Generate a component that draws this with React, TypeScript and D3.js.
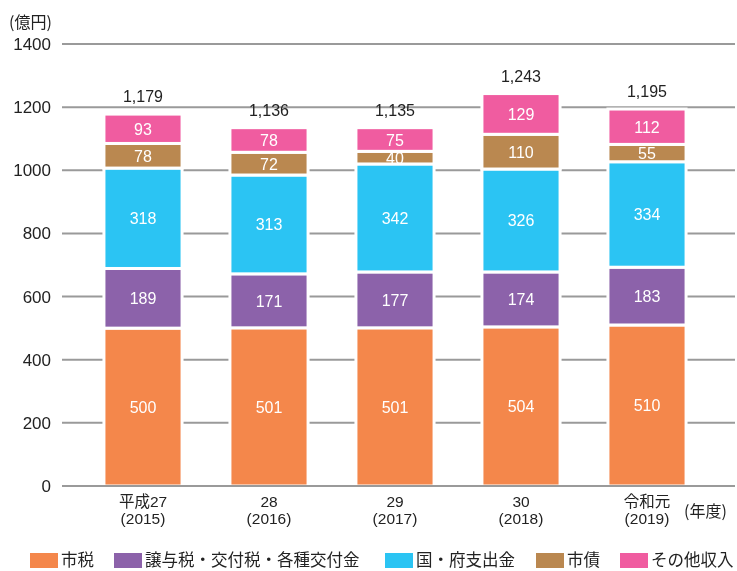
import { useEffect, useRef } from 'react';
import * as d3 from 'd3';

const years = ['平成27', '28', '29', '30', '令和元'];
const westernYears = ['(2015)', '(2016)', '(2017)', '(2018)', '(2019)'];
const seriesNames = ['市税', '譲与税・交付税・各種交付金', '国・府支出金', '市債', 'その他収入'];
const colors = ['#F4874B', '#8C62AA', '#2BC4F3', '#BA8850', '#F05CA0'];
const shizei = [500, 501, 501, 504, 510];
const jouyozei = [189, 171, 177, 174, 183];
const kokufu = [318, 313, 342, 326, 334];
const shisai = [78, 72, 40, 110, 55];
const sonota = [93, 78, 75, 129, 112];
const totals = ['1,179', '1,136', '1,135', '1,243', '1,195'];
const yTicks = [0, 200, 400, 600, 800, 1000, 1200, 1400];

const FONT = '"Liberation Sans", "Noto Sans CJK JP", sans-serif';
const JP = '"Noto Sans CJK JP", sans-serif';

export default function App() {
  const ref = useRef<SVGSVGElement>(null);

  useEffect(() => {
    const width = 737, height = 571;
    const svg = d3.select(ref.current);
    svg.selectAll('*').remove();
    svg.attr('width', width).attr('height', height);

    const table = years.map((y, i) => ({
      year: y,
      s0: shizei[i], s1: jouyozei[i], s2: kokufu[i], s3: shisai[i], s4: sonota[i],
    }));
    const keys = ['s0', 's1', 's2', 's3', 's4'];
    const stacked = d3.stack<any>().keys(keys)(table);

    const x = d3.scaleBand().domain(years).range([80, 710]).paddingInner(0.38).paddingOuter(0.19);
    const y = d3.scaleLinear().domain([0, 1400]).range([486, 44]);

    // grid
    svg.append('g')
      .selectAll('line')
      .data(yTicks)
      .join('line')
      .attr('x1', 62).attr('x2', 735)
      .attr('y1', d => y(d)).attr('y2', d => y(d))
      .attr('stroke', '#9a9a9a')
      .attr('stroke-width', 2);

    svg.append('g')
      .selectAll('text')
      .data(yTicks)
      .join('text')
      .attr('x', 51).attr('y', d => y(d) + 6)
      .attr('text-anchor', 'end')
      .attr('font-family', FONT)
      .attr('font-size', 17)
      .attr('fill', '#222')
      .text(d => d);

    svg.append('text')
      .attr('x', 9).attr('y', 28)
      .attr('font-family', JP).attr('font-size', 16).attr('fill', '#222')
      .text('(億円)');

    // bars
    stacked.forEach((layer, li) => {
      const g = svg.append('g');
      g.selectAll('rect')
        .data(layer)
        .join('rect')
        .attr('x', d => x(d.data.year)!)
        .attr('width', x.bandwidth())
        .attr('y', d => y(d[1]))
        .attr('height', d => y(d[0]) - y(d[1]))
        .attr('fill', colors[li])
        .attr('stroke', '#fff')
        .attr('stroke-width', 3);
      g.selectAll('text')
        .data(layer)
        .join('text')
        .attr('x', d => x(d.data.year)! + x.bandwidth() / 2)
        .attr('y', d => (y(d[0]) + y(d[1])) / 2 + 6)
        .attr('text-anchor', 'middle')
        .attr('font-family', FONT)
        .attr('font-size', 16)
        .attr('fill', '#fff')
        .text(d => d[1] - d[0]);
    });

    // totals
    const top = stacked[stacked.length - 1];
    svg.append('g')
      .selectAll('text')
      .data(top)
      .join('text')
      .attr('x', d => x(d.data.year)! + x.bandwidth() / 2)
      .attr('y', d => y(d[1]) - 12)
      .attr('text-anchor', 'middle')
      .attr('font-family', FONT)
      .attr('font-size', 16)
      .attr('fill', '#222')
      .text((d, i) => totals[i]);

    // baseline
    svg.append('line')
      .attr('x1', 62).attr('x2', 735)
      .attr('y1', y(0)).attr('y2', y(0))
      .attr('stroke', '#9a9a9a').attr('stroke-width', 2);

    // x labels
    const xl = svg.append('g');
    years.forEach((yr, i) => {
      const cx = x(yr)! + x.bandwidth() / 2;
      xl.append('text').attr('x', cx).attr('y', 506.5)
        .attr('text-anchor', 'middle').attr('font-family', FONT).attr('font-size', 15.5).attr('fill', '#222')
        .text(yr);
      xl.append('text').attr('x', cx).attr('y', 524)
        .attr('text-anchor', 'middle').attr('font-family', FONT).attr('font-size', 15.5).attr('fill', '#222')
        .text(westernYears[i]);
    });
    xl.append('text').attr('x', 684).attr('y', 517)
      .attr('font-family', JP).attr('font-size', 16).attr('fill', '#222')
      .text('(年度)');

    // legend
    const legendX = [30, 114, 385, 536, 620];
    const lg = svg.append('g');
    seriesNames.forEach((name, i) => {
      lg.append('rect').attr('x', legendX[i]).attr('y', 553).attr('width', 28).attr('height', 15)
        .attr('fill', colors[i]);
      lg.append('text').attr('x', legendX[i] + 31).attr('y', 566)
        .attr('font-family', JP).attr('font-size', 16.5).attr('fill', '#222')
        .text(name);
    });
  }, []);

  return <svg ref={ref} style={{ display: 'block', position: 'fixed', left: 0, top: 0 }}></svg>;
}
